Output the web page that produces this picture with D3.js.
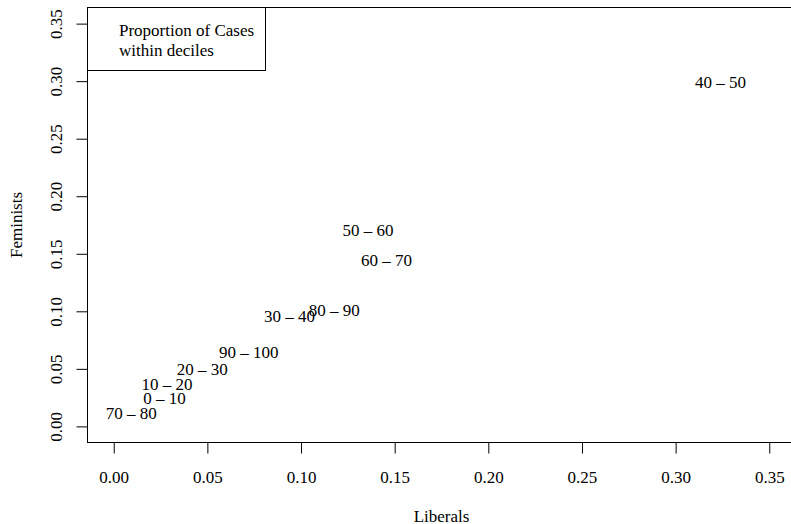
<!DOCTYPE html>
<html><head><meta charset="utf-8">
<script src="https://cdn.jsdelivr.net/npm/d3@7"></script>
<style>
html,body{margin:0;padding:0;background:#fff;}
svg{display:block;}
text{font-family:"Liberation Serif","Times New Roman",serif;fill:#000;}
</style></head>
<body>
<svg id="chart" width="791" height="524"></svg>
<script>
const labels = ["40 – 50","50 – 60","60 – 70","30 – 40","80 – 90","90 – 100","20 – 30","10 – 20","0 – 10","70 – 80"];
const liberals = [0.3239,0.1358,0.1457,0.0938,0.1177,0.0721,0.0473,0.0284,0.0271,0.0094];
const feminists = [0.2986,0.1707,0.1444,0.0960,0.1012,0.0642,0.0491,0.0361,0.0246,0.0113];
const tickValues = [0,0.05,0.10,0.15,0.20,0.25,0.30,0.35];
const legendLines = ["Proportion of Cases","within deciles"];
const xTitle = "Liberals", yTitle = "Feminists";

const svg = d3.select("#chart");
const L = 87.5, R = 795.5, T = 7.5, B = 442.5;
const lim = [0, 0.35], pad = (lim[1]-lim[0])*0.04;
const x = d3.scaleLinear().domain([lim[0]-pad, lim[1]+pad]).range([L, R]);
const y = d3.scaleLinear().domain([lim[0]-pad, lim[1]+pad]).range([B, T]);
const fs = 17;

// box
svg.append("rect").attr("x",L).attr("y",T).attr("width",R-L).attr("height",B-T)
  .attr("fill","none").attr("stroke","#000").attr("stroke-width",1);

// x axis
const xa = svg.append("g").attr("transform",`translate(0,${B})`)
  .call(d3.axisBottom(x).tickValues(tickValues).tickFormat(d3.format(".2f")).tickSize(11).tickPadding(17));
xa.select(".domain").remove();
xa.selectAll("text").style("font-size",fs+"px").style("font-family","Liberation Serif");
xa.selectAll("line").attr("stroke","#000");

// y axis
const ya = svg.append("g").attr("transform",`translate(${L},0)`)
  .call(d3.axisLeft(y).tickValues(tickValues).tickFormat(d3.format(".2f")).tickSize(11));
ya.select(".domain").remove();
ya.selectAll("line").attr("stroke","#000");
ya.selectAll("text").remove();
ya.selectAll(".tick").append("text")
  .attr("transform","translate(-31,0) rotate(-90)")
  .attr("text-anchor","middle").attr("dy","0.33em")
  .style("font-size",fs+"px").style("font-family","Liberation Serif")
  .text(d=>d3.format(".2f")(d));

// titles
svg.append("text").attr("x",(L+R)/2).attr("y",516).attr("dy","0.33em")
  .attr("text-anchor","middle").style("font-size",fs+"px").text(xTitle);
svg.append("text").attr("transform",`translate(16.7,${(T+B)/2}) rotate(-90)`).attr("dy","0.33em")
  .attr("text-anchor","middle").style("font-size",fs+"px").text(yTitle);

// points as labels
svg.append("g").selectAll("text").data(labels).join("text")
  .attr("x",(d,i)=>x(liberals[i])).attr("y",(d,i)=>y(feminists[i]))
  .attr("dy","0.33em").attr("text-anchor","middle")
  .style("font-size",fs+"px").text(d=>d);

// legend
svg.append("rect").attr("x",L).attr("y",T).attr("width",265.5-L).attr("height",70.5-T)
  .attr("fill","#fff").attr("stroke","#000").attr("stroke-width",1);
svg.append("g").selectAll("text").data(legendLines).join("text")
  .attr("x",119).attr("y",(d,i)=>30+i*20).attr("dy","0.33em")
  .style("font-size",fs+"px").text(d=>d);
</script>
</body></html>
